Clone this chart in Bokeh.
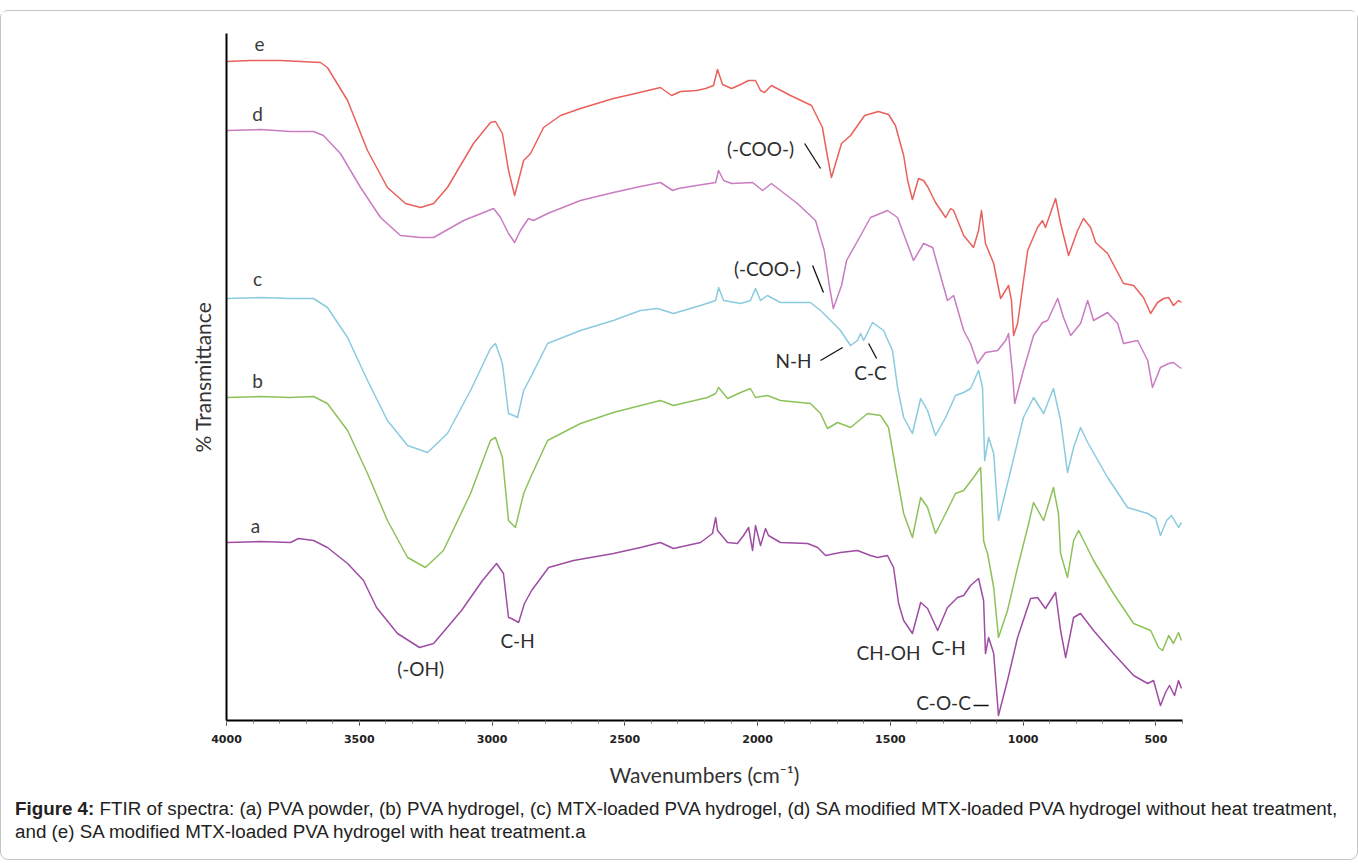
from bokeh.plotting import figure
from bokeh.layouts import column
from bokeh.models import Range1d, FixedTicker, Div
from bokeh.core.properties import value
from bokeh.embed import file_html
from bokeh.resources import INLINE

# ---- spectra (wavenumber cm^-1, stacked % transmittance, arbitrary offset units) ----
wn_e = [4000, 3910, 3797, 3646, 3620, 3544, 3469, 3394, 3326, 3269, 3220, 3168, 3070, 3006, 2987, 2961, 2938, 2915, 2881, 2855,
        2806, 2742, 2667, 2543, 2460, 2366, 2324, 2290, 2230, 2196, 2166, 2151, 2132, 2098, 2064, 2034, 2008, 1989, 1974, 1948,
        1876, 1797, 1756, 1741, 1722, 1703, 1684, 1650, 1597, 1545, 1507, 1481, 1450, 1435, 1417, 1394, 1375, 1360, 1330, 1292,
        1273, 1262, 1224, 1187, 1168, 1157, 1142, 1111, 1085, 1055, 1044, 1036, 1021, 983, 946, 927, 916, 878, 859, 829,
        795, 773, 746, 727, 682, 622, 584, 547, 520, 494, 471, 452, 434, 415, 404]
t_e = [659, 660, 660, 658, 653, 620, 570, 533, 517, 513, 517, 533, 577, 598, 599, 587, 550, 525, 560, 567,
       593, 605, 612, 622, 627, 633, 625, 629, 630, 632, 635, 651, 636, 632, 636, 640, 640, 630, 628, 635,
       625, 615, 593, 570, 543, 560, 577, 585, 605, 609, 606, 595, 565, 540, 521, 542, 540, 534, 518, 503,
       512, 510, 485, 473, 490, 510, 477, 457, 422, 435, 420, 385, 397, 470, 493, 500, 493, 522, 497, 465,
       490, 502, 493, 478, 467, 437, 435, 423, 407, 418, 422, 423, 415, 420, 418]

wn_d = [4000, 3872, 3759, 3672, 3635, 3571, 3495, 3420, 3345, 3269, 3220, 3107, 2994, 2968, 2938, 2915, 2893, 2863, 2844, 2791,
        2667, 2543, 2441, 2366, 2320, 2298, 2230, 2158, 2147, 2128, 2098, 2019, 1981, 1948, 1850, 1782, 1749, 1730, 1715, 1684,
        1665, 1612, 1575, 1511, 1473, 1413, 1375, 1341, 1285, 1262, 1224, 1198, 1172, 1142, 1096, 1066, 1055, 1040, 1032, 999,
        961, 927, 908, 870, 848, 821, 784, 757, 735, 682, 644, 622, 569, 531, 513, 483, 452, 434, 415, 404]
t_d = [590, 591, 589, 589, 585, 567, 533, 503, 485, 483, 483, 500, 512, 503, 487, 478, 490, 502, 500, 507,
       520, 528, 534, 538, 530, 532, 535, 538, 550, 540, 537, 538, 530, 537, 517, 500, 470, 435, 412, 435,
       460, 485, 503, 510, 503, 460, 477, 473, 420, 425, 390, 377, 357, 368, 370, 380, 387, 347, 317, 350,
       385, 398, 400, 422, 403, 385, 397, 420, 400, 408, 397, 377, 380, 360, 333, 353, 357, 358, 354, 352]

wn_c = [4000, 3872, 3759, 3672, 3620, 3544, 3469, 3394, 3318, 3243, 3168, 3081, 3006, 2987, 2961, 2938, 2919, 2904, 2881, 2855,
        2791, 2667, 2543, 2441, 2377, 2317, 2215, 2158, 2147, 2128, 2064, 2027, 2008, 1989, 1963, 1914, 1801, 1763, 1725, 1688,
        1650, 1624, 1612, 1601, 1567, 1526, 1492, 1473, 1450, 1417, 1386, 1360, 1330, 1292, 1255, 1224, 1198, 1168, 1153, 1145,
        1130, 1111, 1093, 1047, 999, 961, 923, 904, 886, 859, 833, 810, 784, 757, 682, 607, 531, 501, 483, 460,
        441, 415, 404]
t_c = [422, 423, 422, 422, 413, 383, 340, 300, 275, 268, 287, 330, 372, 377, 357, 307, 305, 303, 330, 343,
       377, 390, 400, 410, 412, 407, 415, 420, 433, 420, 417, 420, 432, 420, 425, 418, 418, 410, 400, 390,
       375, 380, 387, 380, 398, 390, 370, 333, 303, 287, 322, 310, 285, 303, 325, 328, 332, 350, 333, 260,
       283, 267, 200, 250, 303, 323, 307, 320, 332, 300, 248, 273, 293, 278, 243, 213, 207, 202, 185, 200,
       205, 193, 198]

wn_b = [4000, 3872, 3759, 3672, 3620, 3544, 3469, 3394, 3318, 3251, 3183, 3081, 3006, 2987, 2961, 2938, 2912, 2881, 2855, 2791,
        2667, 2543, 2441, 2366, 2317, 2189, 2158, 2147, 2113, 2064, 2027, 2008, 1963, 1914, 1801, 1763, 1737, 1699, 1650, 1586,
        1537, 1507, 1481, 1450, 1417, 1386, 1360, 1330, 1292, 1255, 1224, 1187, 1160, 1149, 1142, 1134, 1111, 1093, 1059, 1021,
        983, 961, 923, 886, 867, 859, 833, 810, 791, 735, 660, 584, 520, 490, 475, 452, 434, 415, 404]
t_b = [323, 324, 323, 324, 317, 290, 247, 200, 163, 153, 170, 227, 280, 283, 263, 200, 193, 227, 243, 280,
       297, 308, 315, 320, 315, 323, 327, 333, 322, 328, 332, 323, 325, 320, 317, 307, 292, 298, 293, 307,
       305, 293, 253, 207, 183, 223, 213, 187, 207, 227, 230, 243, 253, 180, 173, 167, 133, 83, 110, 153,
       193, 218, 200, 233, 207, 167, 143, 180, 190, 160, 127, 97, 90, 73, 70, 85, 77, 88, 80]

wn_a = [4000, 3872, 3759, 3729, 3672, 3620, 3544, 3484, 3435, 3356, 3273, 3220, 3115, 3036, 2983, 2957, 2938, 2927, 2900, 2878,
        2851, 2787, 2693, 2543, 2441, 2366, 2317, 2215, 2170, 2158, 2151, 2113, 2076, 2053, 2034, 2019, 2008, 1989, 1970, 1959,
        1914, 1812, 1774, 1744, 1688, 1624, 1575, 1548, 1511, 1488, 1469, 1450, 1417, 1386, 1360, 1322, 1285, 1247, 1224, 1198,
        1168, 1149, 1142, 1130, 1111, 1093, 1059, 1021, 972, 946, 916, 878, 859, 840, 810, 784, 735, 660, 584, 531,
        509, 483, 464, 449, 430, 415, 404]
t_a = [178, 179, 178, 182, 180, 173, 157, 140, 113, 87, 73, 77, 110, 140, 157, 147, 103, 102, 98, 117,
       130, 153, 160, 167, 173, 178, 172, 178, 187, 203, 190, 178, 177, 185, 193, 170, 195, 175, 192, 185,
       178, 177, 173, 165, 168, 170, 165, 163, 165, 153, 117, 100, 87, 118, 112, 90, 113, 123, 125, 135,
       142, 120, 67, 83, 67, 5, 40, 83, 122, 123, 112, 128, 90, 63, 103, 107, 90, 67, 45, 37,
       40, 15, 28, 35, 25, 40, 32]

series_names = ["a", "b", "c", "d", "e"]
series_wn = [wn_a, wn_b, wn_c, wn_d, wn_e]
series_t = [t_a, t_b, t_c, t_d, t_e]
series_colors = ["#9E4DA3", "#8DC25A", "#8ACBE0", "#C97DC1", "#E8615C"]

# curve letters
letter_x = [3891, 3883, 3883, 3883, 3876]
letter_y = [195, 340, 442, 607, 677]

# band annotations
ann_text = ["(-COO-)", "(-COO-)", "N-H", "C-C", "(-OH)", "C-H", "CH-OH", "C-H", "C-O-C"]
ann_x = [1989, 1963, 1865, 1575, 3269, 2904, 1507, 1281, 1300]
ann_y = [572, 452, 360, 348, 52, 80, 68, 73, 18]
lead_x0 = [1823, 1793, 1763, 1582, 1187]
lead_y0 = [577, 455, 360, 377, 15]
lead_x1 = [1763, 1752, 1680, 1552, 1130]
lead_y1 = [552, 428, 373, 362, 15]

x_ticks = [4000, 3500, 3000, 2500, 2000, 1500, 1000, 500]
x_minor = list(range(4000, 399, -100))

caption_bold = "Figure 4:"
caption_line1 = "FTIR of spectra: (a) PVA powder, (b) PVA hydrogel, (c) MTX-loaded PVA hydrogel, (d) SA modified MTX-loaded PVA hydrogel without heat treatment,"
caption_line2 = "and (e) SA modified MTX-loaded PVA hydrogel with heat treatment.a"

# ---------------- main spectra figure ----------------
p = figure(width=1356, height=778, output_backend="svg", toolbar_location=None,
           x_range=Range1d(4000, 400), y_range=Range1d(0, 687),
           min_border_left=225, min_border_right=175, min_border_top=22, min_border_bottom=69)
p.grid.visible = False
p.outline_line_color = None
p.background_fill_color = "white"
p.border_fill_color = "white"

for wn, t, col in zip(series_wn, series_t, series_colors):
    p.line(wn, t, line_color=col, line_width=1.5, line_join="round")

p.text(letter_x, letter_y, text=series_names, text_font=value("Lato"), text_font_size="19px",
       text_color="#3a3a3a", text_align="center", text_baseline="middle")
p.text(ann_x, ann_y, text=ann_text, text_font=value("Lato"), text_font_size="19px",
       text_color="#2e2e2e", text_align="center", text_baseline="middle")
p.segment(lead_x0, lead_y0, lead_x1, lead_y1, line_color="#111111", line_width=1.3)

xa = p.xaxis[0]
xa.ticker = FixedTicker(ticks=x_ticks, minor_ticks=x_minor)
xa.axis_line_color = "black"
xa.axis_line_width = 2
xa.major_tick_in = 0
xa.major_tick_out = 5
xa.major_tick_line_color = "#333333"
xa.minor_tick_in = 0
xa.minor_tick_out = 3
xa.minor_tick_line_color = "#777777"
xa.major_label_text_font = "DejaVu Sans"
xa.major_label_text_font_style = "bold"
xa.major_label_text_font_size = "11px"
xa.major_label_text_color = "#222222"
xa.major_label_standoff = 9
xa.axis_label = "Wavenumbers (cm⁻¹)"
xa.axis_label_text_font = "Lato"
xa.axis_label_text_font_style = "normal"
xa.axis_label_text_font_size = "21px"
xa.axis_label_text_color = "#333333"
xa.axis_label_standoff = 16

ya = p.yaxis[0]
ya.ticker = FixedTicker(ticks=[])
ya.axis_line_color = "black"
ya.axis_line_width = 2
ya.major_tick_line_color = None
ya.minor_tick_line_color = None
ya.major_label_text_font_size = "0px"
ya.axis_label = "% Transmittance"
ya.axis_label_text_font = "Lato"
ya.axis_label_text_font_style = "normal"
ya.axis_label_text_font_size = "21px"
ya.axis_label_text_color = "#333333"
ya.axis_label_standoff = 12

# ---------------- caption ----------------
cap_html = ('<span style="font-weight:bold">' + caption_bold + '</span> ' + caption_line1 +
            '<br>' + caption_line2)
cap = Div(text=cap_html, width=1346, height=60,
          styles={"font-family": "'Liberation Sans', Arial, sans-serif", "font-size": "18.8px",
                  "line-height": "23px", "color": "#222222", "white-space": "nowrap",
                  "padding-left": "9px", "padding-top": "3px"})

layout = column(p, cap, spacing=0,
                styles={"border": "1px solid #c4c4c4", "border-radius": "8px", "margin-top": "10px"})

open("out.html", "w").write(file_html(layout, INLINE))
